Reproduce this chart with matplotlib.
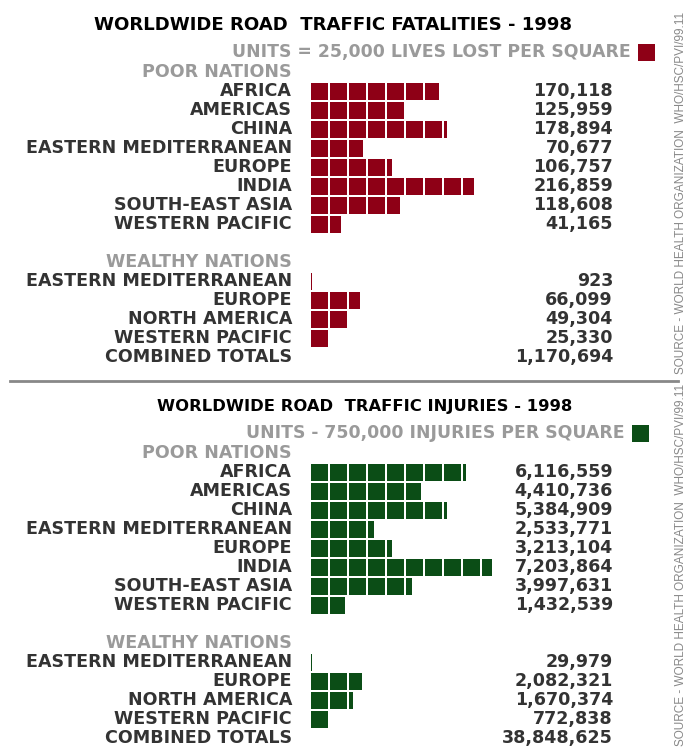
import matplotlib
matplotlib.use("Agg")
import matplotlib.pyplot as plt

# --- data ---
poor_regions = ["AFRICA", "AMERICAS", "CHINA", "EASTERN MEDITERRANEAN",
                "EUROPE", "INDIA", "SOUTH-EAST ASIA", "WESTERN PACIFIC"]
wealthy_regions = ["EASTERN MEDITERRANEAN", "EUROPE", "NORTH AMERICA", "WESTERN PACIFIC"]

fatal_poor = [170118, 125959, 178894, 70677, 106757, 216859, 118608, 41165]
fatal_wealthy = [923, 66099, 49304, 25330]
fatal_total = 1170694
fatal_unit = 25000

injury_poor = [6116559, 4410736, 5384909, 2533771, 3213104, 7203864, 3997631, 1432539]
injury_wealthy = [29979, 2082321, 1670374, 772838]
injury_total = 38848625
injury_unit = 750000

RED = "#8e0016"
GREEN = "#0b4d16"
DARK = "#333333"
GREY = "#9a9a9a"

W, H = 687, 752
fig = plt.figure(figsize=(W / 100, H / 100), dpi=100)
ax = fig.add_axes([0, 0, 1, 1])
ax.set_xlim(0, W)
ax.set_ylim(H, 0)
ax.axis("off")

FONT = "DejaVu Sans"
FS = 12.6
LABEL_X = 292
VALUE_X = 613
BAR_X = 311
PITCH = 19
SQ = 17


def draw_squares(y, value, unit, color):
    n = value / unit
    full = int(n)
    lefts = [BAR_X + i * PITCH for i in range(full)]
    widths = [SQ] * full
    frac = n - full
    if full == 0:
        lefts.append(BAR_X)
        widths.append(max(frac * SQ, 1.2))
    elif frac * SQ > 1:
        lefts.append(BAR_X + full * PITCH)
        widths.append(frac * SQ)
    ax.barh([y] * len(lefts), widths, left=lefts, height=SQ, color=color, linewidth=0)


def label(x, y, s, color=DARK, size=FS):
    ax.text(x, y, s, ha="right", va="center", fontsize=size,
            fontweight="bold", color=color, family=FONT)


def panel(top, title, title_size, units_text, key_x, unit, poor, wealthy, total, color):
    label(572, top + 25, title, color="black", size=title_size)
    label(key_x - 7, top + 52, units_text, color=GREY, size=12.4)
    ax.barh([top + 52], [17], left=[key_x], height=17, color=color, linewidth=0)
    row0 = top + 91
    label(LABEL_X, row0 - 19, "POOR NATIONS", color=GREY)
    for i, (name, v) in enumerate(zip(poor_regions, poor)):
        y = row0 + i * PITCH
        label(LABEL_X, y, name)
        label(VALUE_X, y, f"{v:,}")
        draw_squares(y, v, unit, color)
    label(LABEL_X, row0 + 9 * PITCH, "WEALTHY NATIONS", color=GREY)
    for j, (name, v) in enumerate(zip(wealthy_regions, wealthy)):
        y = row0 + (10 + j) * PITCH
        label(LABEL_X, y, name)
        label(VALUE_X, y, f"{v:,}")
        draw_squares(y, v, unit, color)
    y = row0 + 14 * PITCH
    label(LABEL_X, y, "COMBINED TOTALS")
    label(VALUE_X, y, f"{total:,}")


panel(0, "WORLDWIDE ROAD  TRAFFIC FATALITIES - 1998", 13.1,
      "UNITS = 25,000 LIVES LOST PER SQUARE", 638, fatal_unit,
      fatal_poor, fatal_wealthy, fatal_total, RED)
panel(381, "WORLDWIDE ROAD  TRAFFIC INJURIES - 1998", 11.8,
      "UNITS - 750,000 INJURIES PER SQUARE", 632, injury_unit,
      injury_poor, injury_wealthy, injury_total, GREEN)

ax.plot([10, 678], [381, 381], color="#888888", lw=2)

src = "SOURCE - WORLD HEALTH ORGANIZATION  WHO/HSC/PVI/99.11"
ax.text(681, 193, src, rotation=90, ha="center", va="center", fontsize=8.5,
        color="#888888", family="Liberation Sans")
ax.text(681, 565, src, rotation=90, ha="center", va="center", fontsize=8.5,
        color="#888888", family="Liberation Sans")

fig.savefig("out.png", dpi=100, facecolor="white")
